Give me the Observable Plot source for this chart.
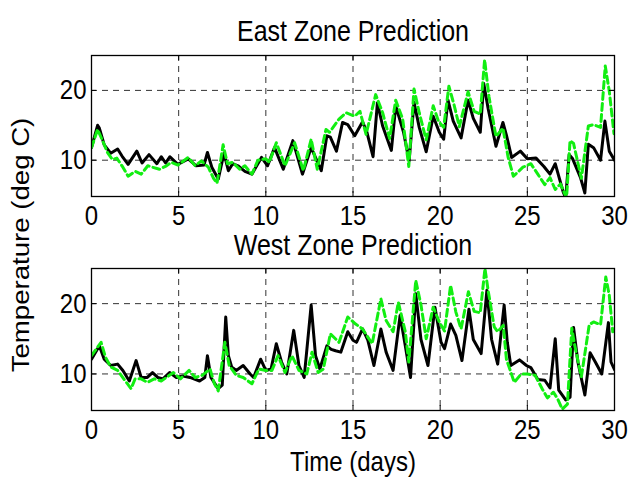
<!DOCTYPE html>
<html><head><meta charset="utf-8">
<script src="https://cdn.jsdelivr.net/npm/d3@7"></script>
<script src="https://cdn.jsdelivr.net/npm/@observablehq/plot@0.6"></script>
<style>
html,body{margin:0;padding:0;background:#fff;}
#wrap{position:relative;width:634px;height:477px;overflow:hidden;font-family:"Liberation Sans",Arial,sans-serif;}
#wrap svg{display:block;}
#p1{position:absolute;left:0;top:0;}
#p2{position:absolute;left:0;top:236px;}
#ov{position:absolute;left:0;top:0;pointer-events:none;}
</style></head><body>
<div id="wrap"><div id="p1"></div><div id="p2"></div><div id="ov"></div></div>
<script>
// ---- tick labels ----
const xTicks = [0, 5, 10, 15, 20, 25, 30];
const xGrid = [5, 10, 15, 20, 25];
const yTicks = [10, 20];
const titles = ["East Zone Prediction", "West Zone Prediction"];
const xLabel = "Time (days)";
const yLabel = "Temperature (deg C)";

// ---- East zone: actual (black) ----
const eastActualT = [0.0,0.35,0.45,0.73,1.1,1.5,1.75,2.1,2.6,2.9,3.3,3.75,4.0,4.25,4.5,4.95,5.55,6.0,6.45,6.65,6.9,7.27,7.6,7.85,8.1,8.4,8.8,9.2,9.75,10.1,10.5,11.0,11.55,12.1,12.6,13.18,13.5,13.7,14.05,14.4,14.7,15.1,15.55,15.8,16.15,16.4,16.7,17.2,17.45,17.9,18.22,18.5,18.8,19.2,19.6,19.95,20.2,20.45,20.75,21.2,21.6,21.9,22.3,22.5,22.75,23.2,23.6,23.8,24.1,24.6,25.0,25.5,25.95,26.3,26.6,27.05,27.2,27.4,27.6,28.05,28.3,28.5,28.8,29.2,29.45,29.7,30.0];
const eastActualV = [11.8,15.0,14.6,12.2,11.0,11.6,10.6,9.4,11.3,9.6,10.8,9.5,10.5,9.6,10.5,9.4,10.2,9.2,9.3,11.1,9.0,7.3,11.0,8.5,9.5,9.2,8.4,8.0,10.4,9.2,11.8,8.7,12.8,8.0,11.8,8.5,13.5,13.3,11.3,15.4,15.1,13.5,15.5,14.0,10.5,18.2,14.9,11.4,17.8,14.0,9.9,18.3,14.7,11.2,16.3,14.0,13.0,18.6,15.6,13.2,18.6,16.0,14.0,21.0,17.4,12.0,15.4,13.6,10.4,11.3,10.2,10.3,9.1,8.0,9.5,5.5,4.6,10.8,10.2,7.5,5.3,12.3,11.8,10.0,15.6,11.3,10.0];

// ---- East zone: prediction (green dashed) ----
const eastPredT = [0.0,0.35,0.6,0.92,1.2,1.45,1.8,2.1,2.5,2.85,3.23,3.5,3.9,4.3,4.58,4.96,5.55,5.95,6.3,6.7,7.0,7.2,7.55,7.8,8.1,8.5,8.8,9.2,9.55,10.0,10.2,10.6,11.1,11.65,12.15,12.6,12.95,13.45,13.65,14.2,14.6,15.1,15.4,15.75,16.3,16.7,17.1,17.45,17.85,18.2,18.5,18.8,19.2,19.6,19.9,20.2,20.5,20.8,21.1,21.6,21.95,22.3,22.55,22.8,23.2,23.6,23.9,24.2,24.75,25.2,25.6,26.0,26.3,26.6,26.9,27.25,27.45,27.65,28.1,28.5,28.8,29.2,29.47,29.7,29.97];
const eastPredV = [11.8,14.4,13.0,11.1,10.1,10.3,9.0,7.7,8.4,8.0,9.2,9.0,8.7,9.2,9.7,9.3,10.4,9.2,9.9,9.0,7.4,6.7,12.2,9.5,9.7,8.7,9.2,8.0,10.0,10.2,9.7,12.5,9.2,12.5,8.5,13.0,8.7,14.4,14.0,15.9,16.8,16.3,17.0,13.7,19.4,16.8,13.1,18.6,15.9,9.1,20.2,16.8,12.9,17.8,15.6,14.7,20.6,17.9,14.8,19.8,17.0,16.6,24.4,19.1,13.4,14.6,10.4,7.7,9.0,9.5,8.0,6.5,7.5,5.8,6.6,4.6,12.8,12.4,7.4,14.9,15.1,14.7,23.5,19.9,13.8];

// ---- West zone: actual (black) ----
const westActualT = [0.0,0.45,0.73,1.1,1.5,1.8,2.17,2.56,2.85,3.2,3.5,3.8,4.1,4.48,4.87,5.25,5.65,6.2,6.5,6.65,6.85,7.27,7.5,7.7,7.85,8.04,8.3,8.7,9.1,9.3,9.7,10.0,10.3,10.6,10.9,11.2,11.6,11.9,12.2,12.6,12.85,13.1,13.5,13.75,14.0,14.3,14.7,15.0,15.2,15.55,15.85,16.2,16.6,16.9,17.3,17.7,18.0,18.3,18.6,18.9,19.3,19.7,20.05,20.25,20.6,20.9,21.25,21.65,21.9,22.35,22.68,22.95,23.3,23.67,23.85,24.05,24.55,24.95,25.2,25.6,26.0,26.3,26.6,26.8,27.2,27.45,27.65,27.9,28.3,28.6,28.9,29.27,29.65,29.8,30.0];
const westActualV = [12.1,14.0,12.1,11.2,11.4,10.5,9.0,11.9,9.5,9.5,10.2,9.5,9.3,10.2,9.5,9.7,9.5,9.0,9.5,12.6,9.5,7.9,8.4,18.1,12.6,11.0,10.5,11.2,10.0,9.5,12.1,10.5,10.7,14.3,11.7,10.0,16.2,11.2,9.5,19.8,12.6,10.7,14.0,13.5,13.3,13.1,16.0,14.8,14.5,16.4,14.8,11.2,16.4,13.1,10.5,18.3,14.0,9.5,21.4,14.9,11.2,19.5,14.5,13.6,17.1,15.5,11.9,19.2,14.9,12.9,21.9,14.9,11.4,19.8,14.5,11.2,12.0,11.2,10.9,9.2,9.1,8.0,15.0,7.7,6.3,6.7,16.6,11.7,7.0,13.0,11.7,10.0,17.3,11.7,10.6];

// ---- West zone: prediction (green dashed) ----
const westPredT = [0.0,0.55,0.8,1.1,1.5,1.85,2.27,2.5,2.85,3.2,3.6,4.0,4.3,4.7,5.1,5.6,5.95,6.35,6.8,7.05,7.27,7.65,7.9,8.3,8.7,9.2,9.6,10.0,10.35,10.7,11.1,11.5,11.9,12.35,12.65,13.0,13.3,13.7,14.2,14.7,15.15,15.55,16.1,16.6,16.9,17.3,17.6,18.0,18.2,18.6,18.9,19.2,19.6,19.95,20.25,20.6,20.9,21.2,21.62,21.95,22.3,22.57,22.75,23.1,23.3,23.62,23.8,24.25,24.65,25.0,25.45,25.85,26.15,26.5,26.75,27.0,27.3,27.55,27.7,28.1,28.55,28.8,29.2,29.5,29.7,29.9];
const westPredV = [12.6,14.5,12.4,11.0,10.5,9.3,7.9,9.3,9.3,8.8,9.3,9.0,9.5,10.2,9.3,10.5,9.5,9.8,10.7,8.6,7.6,14.5,11.2,9.8,9.5,8.6,10.7,10.5,10.5,12.6,10.2,12.6,10.5,10.0,13.1,10.2,10.7,15.7,14.5,18.1,17.1,16.4,14.3,20.7,17.6,16.0,20.2,16.0,11.7,23.3,19.8,15.0,19.5,17.4,16.1,22.6,18.8,16.4,21.7,18.9,18.7,25.0,21.9,16.7,16.0,16.9,12.1,8.8,10.0,10.0,9.8,7.9,6.6,7.4,6.4,5.0,5.7,16.5,14.3,9.6,17.0,17.4,17.0,23.8,21.2,16.0];

const fontFamily = '"Liberation Sans", Arial, sans-serif';
const green = "#11ee11";
const W = 634, ML = 91, MR = 20;
const FS = 24;        // horizontal font size
const VSTRETCH = 1.15; // glyphs in the reference are slightly taller than wide

function toRows(t, v) { return t.map((x, i) => ({x, y: v[i]})); }

function panel(el, {title, actualT, actualV, predT, predV, height, mt, mb, titleDy, bottomLabel}) {
  const frameH = height - mt - mb;
  const frameW = W - ML - MR;
  const grid = {stroke: "#333", strokeOpacity: 1, strokeWidth: 1, strokeDasharray: "6,5"};
  const marks = [
    Plot.gridX(xGrid, grid),
    Plot.gridY(yTicks, grid),
    Plot.line(toRows(actualT, actualV), {x: "x", y: "y", stroke: "black", strokeWidth: 3, strokeLinejoin: "round", clip: true}),
    Plot.line(toRows(predT, predV), {x: "x", y: "y", stroke: green, strokeWidth: 3, strokeDasharray: "7,4", strokeLinejoin: "round", clip: true}),
    Plot.tickX(xTicks, {x: d => d, insetTop: frameH - 5, stroke: "black"}),
    Plot.tickX(xTicks, {x: d => d, insetBottom: frameH - 5, stroke: "black"}),
    Plot.tickY(yTicks, {y: d => d, insetRight: frameW - 5, stroke: "black"}),
    Plot.tickY(yTicks, {y: d => d, insetLeft: frameW - 5, stroke: "black"}),
    Plot.frame({stroke: "black", strokeWidth: 1.3}),
    Plot.axisX({ticks: xTicks, tickSize: 0, tickPadding: 10, fontSize: FS, label: null}),
    Plot.axisY({ticks: yTicks, tickSize: 0, tickPadding: 5, fontSize: FS, label: null}),
    Plot.text([title], {text: d => d, frameAnchor: "top", lineAnchor: "middle", dy: titleDy, fontSize: 25, fill: "black"})
  ];
  if (bottomLabel) marks.push(Plot.text([bottomLabel], {text: d => d, frameAnchor: "bottom", lineAnchor: "middle", dy: 52, fontSize: FS, fill: "black"}));
  const chart = Plot.plot({
    width: W, height,
    marginLeft: ML, marginRight: MR, marginTop: mt, marginBottom: mb,
    x: {domain: [0, 30]},
    y: {domain: [4.8, 25]},
    style: {fontFamily, fontSize: FS + "px", color: "black", background: "white", overflow: "visible"},
    marks
  });
  el.appendChild(chart);
  return chart;
}

const c1 = panel(document.getElementById("p1"), {title: titles[0], actualT: eastActualT, actualV: eastActualV, predT: eastPredT, predV: eastPredV, height: 236, mt: 55, mb: 40, titleDy: -24});
const c2 = panel(document.getElementById("p2"), {title: titles[1], actualT: westActualT, actualV: westActualV, predT: westPredT, predV: westPredV, height: 241, mt: 32, mb: 67, titleDy: -23, bottomLabel: xLabel});

// stretch glyphs vertically about their own centre
for (const c of [c1, c2]) {
  c.querySelectorAll("text").forEach(el => {
    const b = el.getBBox();
    const cy = b.y + b.height / 2;
    const t = el.getAttribute("transform") || "";
    el.setAttribute("transform", `${t} translate(0,${cy}) scale(1,${VSTRETCH}) translate(0,${-cy})`);
  });
}

const ov = d3.select("#ov").append("svg").attr("width", W).attr("height", 477);
ov.append("text")
  .attr("transform", "translate(29,245) rotate(-90) scale(1,0.87)")
  .attr("text-anchor", "middle")
  .attr("font-family", fontFamily)
  .attr("font-size", FS * VSTRETCH)
  .attr("fill", "black")
  .text(yLabel);
</script>
</body></html>
